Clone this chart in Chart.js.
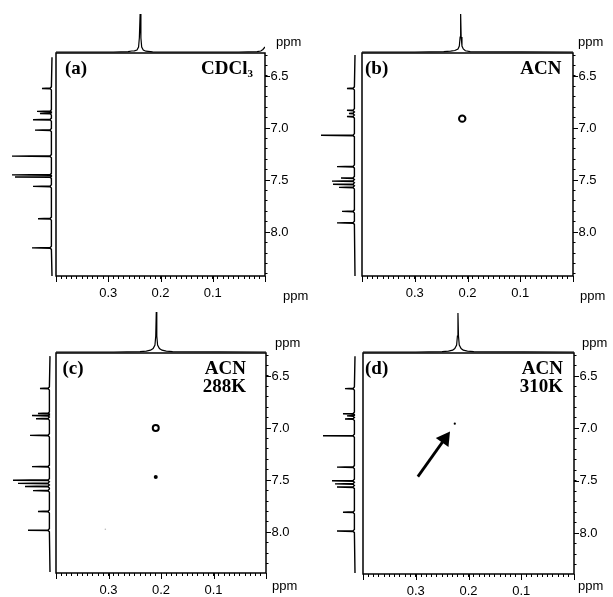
<!DOCTYPE html>
<html>
<head>
<meta charset="utf-8">
<script src="https://cdn.jsdelivr.net/npm/chart.js@4.4.1/dist/chart.umd.min.js"></script>
<style>
  body { margin: 0; background: #fff; }
  #fig { position: relative; width: 613px; height: 597px; overflow: hidden; background: #fff; }
  #fig canvas { position: absolute; }
  .tag { position: absolute; font-family: "Liberation Serif", "Times New Roman", serif; font-weight: bold;
         font-size: 19px; line-height: 18.5px; color: #000; white-space: nowrap; }
  .tag sub { font-size: 11px; vertical-align: -3px; }
  .unit { position: absolute; font-family: "Liberation Sans", Arial, sans-serif; font-size: 13px;
          line-height: 13px; color: #000; }
</style>
</head>
<body>
<div id="fig"></div>
<script>
// 1D projections: F1 trace on top, 1H trace on the left (ppm, height)
const topPpmA = [0.40, 0.29, 0.262, 0.255, 0.250, 0.245, 0.242, 0.2405, 0.239, 0.2375, 0.236, 0.233, 0.228, 0.215, 0.05, 0.015, 0.008, 0.004, 0.0];
const topIntA = [0, 0, 0.3, 1, 1.2, 2, 5, 14, 38, 14, 5, 2, 0.8, 0.2, 0, 0.3, 1, 2.5, 5];
const topPpmB = [0.40, 0.30, 0.245, 0.232, 0.224, 0.218, 0.2155, 0.214, 0.213, 0.212, 0.2105, 0.208, 0.204, 0.195, 0.0];
const topIntB = [0, 0, 0.3, 0.8, 1.5, 3, 6, 15, 38, 15, 6, 3, 1.2, 0.3, 0];
const topPpmC = [0.40, 0.29, 0.24, 0.228, 0.22, 0.215, 0.2115, 0.210, 0.209, 0.208, 0.2065, 0.203, 0.198, 0.19, 0.178, 0.0];
const topIntC = [0, 0, 0.3, 0.8, 1.8, 3.5, 7, 16, 40, 16, 7, 3.5, 1.8, 0.8, 0.3, 0];
const topPpmD = [0.40, 0.30, 0.25, 0.238, 0.23, 0.226, 0.2225, 0.221, 0.220, 0.219, 0.2175, 0.214, 0.21, 0.202, 0.19, 0.0];
const topIntD = [0, 0, 0.3, 0.8, 1.8, 3.5, 7, 16, 39, 16, 7, 3.5, 1.8, 0.8, 0.3, 0];

const leftPpmA = [6.62, 6.84, 6.86, 6.92, 7.02, 7.27, 7.45, 7.47, 7.56, 7.87, 8.15];
const leftIntA = [10, 15, 12, 19, 17, 40, 40, 37, 19, 14, 20];
const leftPpmB = [6.62, 6.83, 6.86, 6.89, 7.07, 7.37, 7.48, 7.51, 7.54, 7.57, 7.80, 7.91];
const leftIntB = [8, 8, 6, 8, 34, 18, 14, 23, 22, 16, 13, 18];
const leftPpmC = [6.62, 6.86, 6.88, 6.91, 7.07, 7.37, 7.50, 7.53, 7.56, 7.60, 7.80, 7.98];
const leftIntC = [10, 12, 18, 14, 20, 18, 37, 32, 25, 17, 12, 22];
const leftPpmD = [6.62, 6.86, 6.88, 6.91, 7.07, 7.37, 7.50, 7.53, 7.56, 7.80, 7.98];
const leftIntD = [10, 12, 8, 10, 32, 18, 23, 20, 18, 12, 18];

// cross peaks in the 2D maps (F1 ppm, 1H ppm)
const crossB_x = [0.21];
const crossB_y = [6.91];
const crossC_x = [0.21, 0.21, 0.306];
const crossC_y = [7.00, 7.47, 7.97];
const crossD_x = [0.226];
const crossD_y = [6.955];
// arrow pointing at the weak peak in (d): tail, head
const arrowD_x = [0.296, 0.245];
const arrowD_y = [7.46, 7.10];

const xTicks = [0.1, 0.2, 0.3];
const yTicks = [6.5, 7.0, 7.5, 8.0];

const tickFont = { family: '"Liberation Sans", Arial, sans-serif', size: 13 };
const fig = document.getElementById('fig');

function addCanvas(x, y, w, h) {
  const c = document.createElement('canvas');
  c.width = w; c.height = h;
  c.style.left = x + 'px'; c.style.top = y + 'px';
  c.style.width = w + 'px'; c.style.height = h + 'px';
  fig.appendChild(c);
  return c;
}

function addText(cls, html, pos) {
  const d = document.createElement('div');
  d.className = cls;
  d.innerHTML = html;
  Object.keys(pos).forEach(k => { d.style[k] = pos[k] + 'px'; });
  if (pos.right !== undefined) d.style.textAlign = 'right';
  fig.appendChild(d);
}

// stick spectrum along the 1H axis, built from the peak list
function stickTrace(from, to, ppm, ints) {
  const pts = [{ x: 0, y: from }, { x: 0, y: to }];
  ppm.forEach((p, i) => {
    pts.push({ x: 0.6, y: p - 0.015 }, { x: 1.8, y: p - 0.004 }, { x: ints[i], y: p },
             { x: 1.8, y: p + 0.004 }, { x: 0.6, y: p + 0.015 });
  });
  return pts.sort((a, b) => a.y - b.y);
}

const isMajorX = v => Math.round(v * 100) % 10 === 0;
const isMajorY = v => Math.round(v * 10) % 5 === 0;

// box around the 2D map plus the longer major ticks
const frame = {
  id: 'frame',
  afterDraw(chart) {
    const { ctx, chartArea: a, scales } = chart;
    ctx.save();
    ctx.strokeStyle = '#000';
    ctx.lineWidth = 1.5;
    ctx.strokeRect(a.left, a.top, a.right - a.left, a.bottom - a.top);
    ctx.lineWidth = 1;
    ctx.beginPath();
    scales.x.ticks.forEach(t => {
      if (!isMajorX(t.value)) return;
      const px = Math.round(scales.x.getPixelForValue(t.value)) + 0.5;
      ctx.moveTo(px, a.bottom); ctx.lineTo(px, a.bottom + 6);
    });
    scales.y.ticks.forEach(t => {
      if (!isMajorY(t.value)) return;
      const py = Math.round(scales.y.getPixelForValue(t.value)) + 0.5;
      ctx.moveTo(a.right, py); ctx.lineTo(a.right + 5, py);
    });
    ctx.stroke();
    ctx.restore();
  }
};

const baseOpts = {
  responsive: false, animation: false, events: [], devicePixelRatio: 1,
  plugins: { legend: { display: false }, tooltip: { enabled: false } }
};

const line = (data, w) => ({ data, showLine: true, borderColor: '#000', borderWidth: w, pointRadius: 0, tension: 0 });

const panels = [
  { box: [56, 53, 209, 223], yMax: 8.42, base: 52, range: [6.32, 8.42],
    top: [topPpmA, topIntA], left: [leftPpmA, leftIntA], marks: [],
    letter: ['(a)', 65, 59], tags: [['CDCl<sub>3</sub>', 253, 58.5]],
    units: [[276, 35], [283, 289]] },
  { box: [362, 53, 211, 223], yMax: 8.42, base: 355, range: [6.30, 8.42],
    top: [topPpmB, topIntB], left: [leftPpmB, leftIntB],
    marks: [{ data: crossB_x.map((x, i) => ({ x, y: crossB_y[i] })), pointRadius: 3.2, borderWidth: 2,
              borderColor: '#000', backgroundColor: '#fff' }],
    letter: ['(b)', 365, 59], tags: [['ACN', 561.5, 59]],
    units: [[578, 35], [580, 289]] },
  { box: [56, 353, 210, 220], yMax: 8.39, base: 50, range: [6.31, 8.38],
    top: [topPpmC, topIntC], left: [leftPpmC, leftIntC],
    marks: [{ data: crossC_x.map((x, i) => ({ x, y: crossC_y[i] })), pointRadius: [3, 2, 0.8],
              borderWidth: [2, 0, 0], borderColor: '#000', backgroundColor: ['#fff', '#000', '#bbb'] }],
    letter: ['(c)', 62.5, 359], tags: [['ACN<br>288K', 246, 358.5]],
    units: [[275, 336], [272, 579]] },
  { box: [363, 353, 211, 221], yMax: 8.39, base: 355, range: [6.31, 8.38],
    top: [topPpmD, topIntD], left: [leftPpmD, leftIntD],
    marks: [{ data: crossD_x.map((x, i) => ({ x, y: crossD_y[i] })), pointRadius: 1.1, borderWidth: 0,
              backgroundColor: '#000' },
            { data: arrowD_x.map((x, i) => ({ x, y: arrowD_y[i] })), showLine: true, borderColor: '#000',
              borderWidth: 2.8, pointRadius: [0, 9], pointStyle: 'triangle', rotation: 35.6,
              pointBorderWidth: 0, pointBackgroundColor: '#000' }],
    letter: ['(d)', 365, 359], tags: [['ACN<br>310K', 563, 358.5]],
    units: [[582, 336], [578, 579]] }
];

panels.forEach(p => {
  const [L, T, W, H] = p.box;
  const yScale = { type: 'linear', min: 6.28, max: p.yMax, reverse: true };

  // F1 projection above the map
  new Chart(addCanvas(L, T - 45, W, 45), {
    type: 'scatter',
    data: { datasets: [line(p.top[0].map((x, i) => ({ x, y: p.top[1][i] })), 1.2)] },
    options: { ...baseOpts, scales: {
      x: { type: 'linear', min: 0, max: 0.4, reverse: true, display: false },
      y: { type: 'linear', min: -1, max: 44, display: false } } }
  });

  // 1H projection on the left, peaks pointing away from the map
  new Chart(addCanvas(p.base - 52, T, 56, H), {
    type: 'scatter',
    data: { datasets: [line(stickTrace(p.range[0], p.range[1], p.left[0], p.left[1]), 1.4)] },
    options: { ...baseOpts, scales: {
      x: { type: 'linear', min: -4, max: 52, reverse: true, display: false },
      y: { ...yScale, display: false } } }
  });

  // 2D map with its axes
  const padL = 12, padT = 12, axW = 45, axH = 30;
  new Chart(addCanvas(L - padL, T - padT, W + padL + axW, H + padT + axH), {
    type: 'scatter',
    data: { datasets: p.marks },
    options: { ...baseOpts,
      layout: { padding: { left: padL, top: padT, right: 0, bottom: 0 } },
      scales: {
        x: { type: 'linear', min: 0, max: 0.4, reverse: true, position: 'bottom',
             afterFit: s => { s.height = axH; },
             border: { display: false },
             grid: { drawOnChartArea: false, tickLength: 3, color: '#000', lineWidth: 1 },
             ticks: { stepSize: 0.01, autoSkip: false, maxRotation: 0, padding: 7, color: '#000', font: tickFont,
                      callback: v => xTicks.some(t => Math.abs(t - v) < 1e-6) ? v.toFixed(1) : '' } },
        y: { ...yScale, position: 'right',
             afterFit: s => { s.width = axW; },
             border: { display: false },
             grid: { drawOnChartArea: false, tickLength: 2.5, color: '#000', lineWidth: 1 },
             ticks: { stepSize: 0.1, includeBounds: false, autoSkip: false, padding: 3, color: '#000', font: tickFont,
                      callback: v => yTicks.some(t => Math.abs(t - v) < 1e-6) ? v.toFixed(1) : '' } }
      } },
    plugins: [frame]
  });

  addText('tag', p.letter[0], { left: p.letter[1], top: p.letter[2] });
  p.tags.forEach(t => addText('tag', t[0], { right: 613 - t[1], top: t[2] }));
  p.units.forEach(u => addText('unit', 'ppm', { left: u[0], top: u[1] }));
});
</script>
</body>
</html>
